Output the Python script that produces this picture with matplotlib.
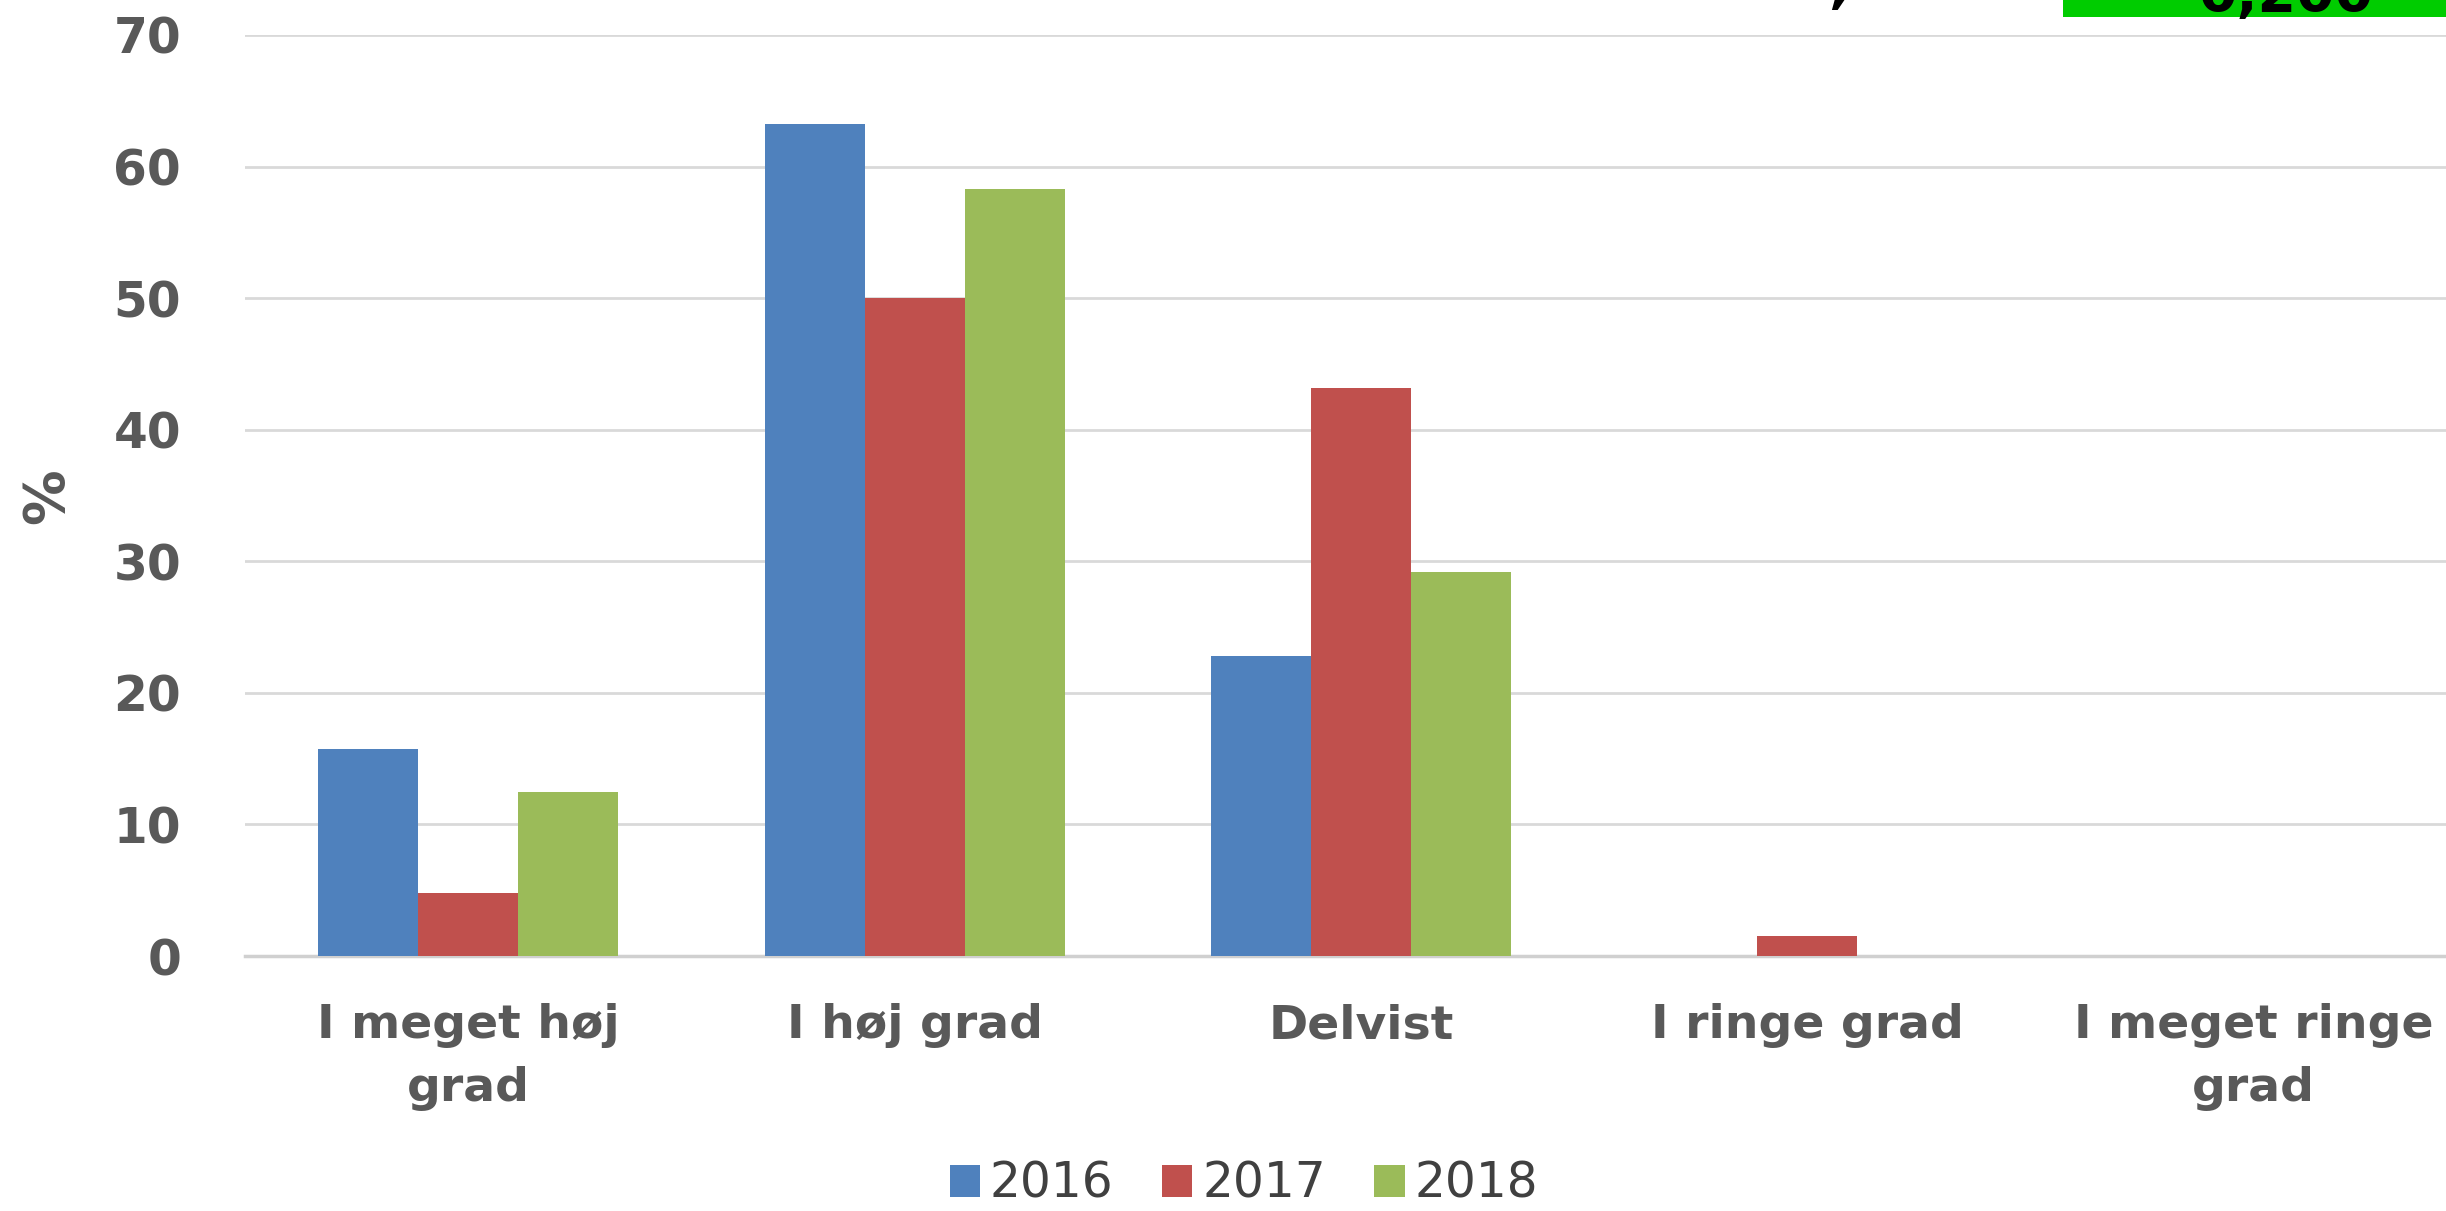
import numpy as np
import matplotlib
matplotlib.use("Agg")
import matplotlib.pyplot as plt
from matplotlib.patches import Patch, Rectangle

categories = ["I meget høj\ngrad", "I høj grad", "Delvist", "I ringe grad", "I meget ringe\ngrad"]
years = ["2016", "2017", "2018"]
v2016 = [15.7, 63.2, 22.8, 0, 0]
v2017 = [4.8, 50.0, 43.2, 1.5, 0]
v2018 = [12.5, 58.3, 29.2, 0, 0]
colors = ["#4F81BD", "#C0504D", "#9BBB59"]

W, H = 2446, 1211
GRAY = "#595959"


def main():
    fig = plt.figure(figsize=(W / 100, H / 100), dpi=100)
    # plot area runs past the right edge, like the cropped original
    ax = fig.add_axes([245 / W, 1 - 956 / H, 2232 / W, (956 - 35) / H])

    x = np.arange(len(categories))
    w = 0.224
    for i, vals in enumerate([v2016, v2017, v2018]):
        ax.bar(x + (i - 1) * w, vals, width=w, color=colors[i], edgecolor="none", zorder=3)

    ax.set_xlim(-0.5, 4.5)
    ax.set_ylim(0, 70)
    ax.set_yticks(range(0, 71, 10))
    ax.grid(axis="y", color="#D9D9D9", linewidth=2, zorder=0)
    for s in ["top", "right", "left"]:
        ax.spines[s].set_visible(False)
    ax.spines["bottom"].set_color("#D0D0D0")
    ax.spines["bottom"].set_linewidth(2.5)

    ax.set_xticks(x, categories)
    ax.tick_params(axis="x", length=0, pad=34)
    ax.tick_params(axis="y", length=0, pad=46)
    for lab in ax.get_xticklabels():
        lab.set_fontsize(34)
        lab.set_fontweight("bold")
        lab.set_color(GRAY)
        lab.set_linespacing(1.5)
    for lab in ax.get_yticklabels():
        lab.set_fontsize(35)
        lab.set_fontweight("bold")
        lab.set_color(GRAY)

    fig.text(47 / W, 1 - 496 / H, "%", rotation=90, fontsize=40, fontweight="bold",
             color=GRAY, ha="center", va="center")

    handles = [Patch(facecolor=c, edgecolor="none", label=y) for c, y in zip(colors, years)]
    fig.legend(handles=handles, loc="center", bbox_to_anchor=(1244 / W, 1 - 1184 / H),
               ncol=3, frameon=False, fontsize=35, handlelength=0.62, handleheight=0.62,
               handletextpad=0.2, columnspacing=1.0, labelcolor="#404040", borderpad=0)

    # cut-off bits at the top right of the original screenshot
    fig.patches.append(Rectangle((2063 / W, 1 - 17 / H), 1 - 2063 / W, 17 / H,
                                 transform=fig.transFigure, facecolor="#00CC00",
                                 edgecolor="none", zorder=5))
    fig.text(2198 / W, 1 - 11 / H, "0,200", fontsize=40, fontweight="bold",
             color="black", va="baseline", ha="left", zorder=6)
    fig.text(1828 / W, 1 - 2 / H, ",", fontsize=40, fontweight="bold",
             color="black", va="baseline", ha="left", zorder=6)

    fig.savefig("out.png", dpi=100)


if __name__ == "__main__":
    main()
